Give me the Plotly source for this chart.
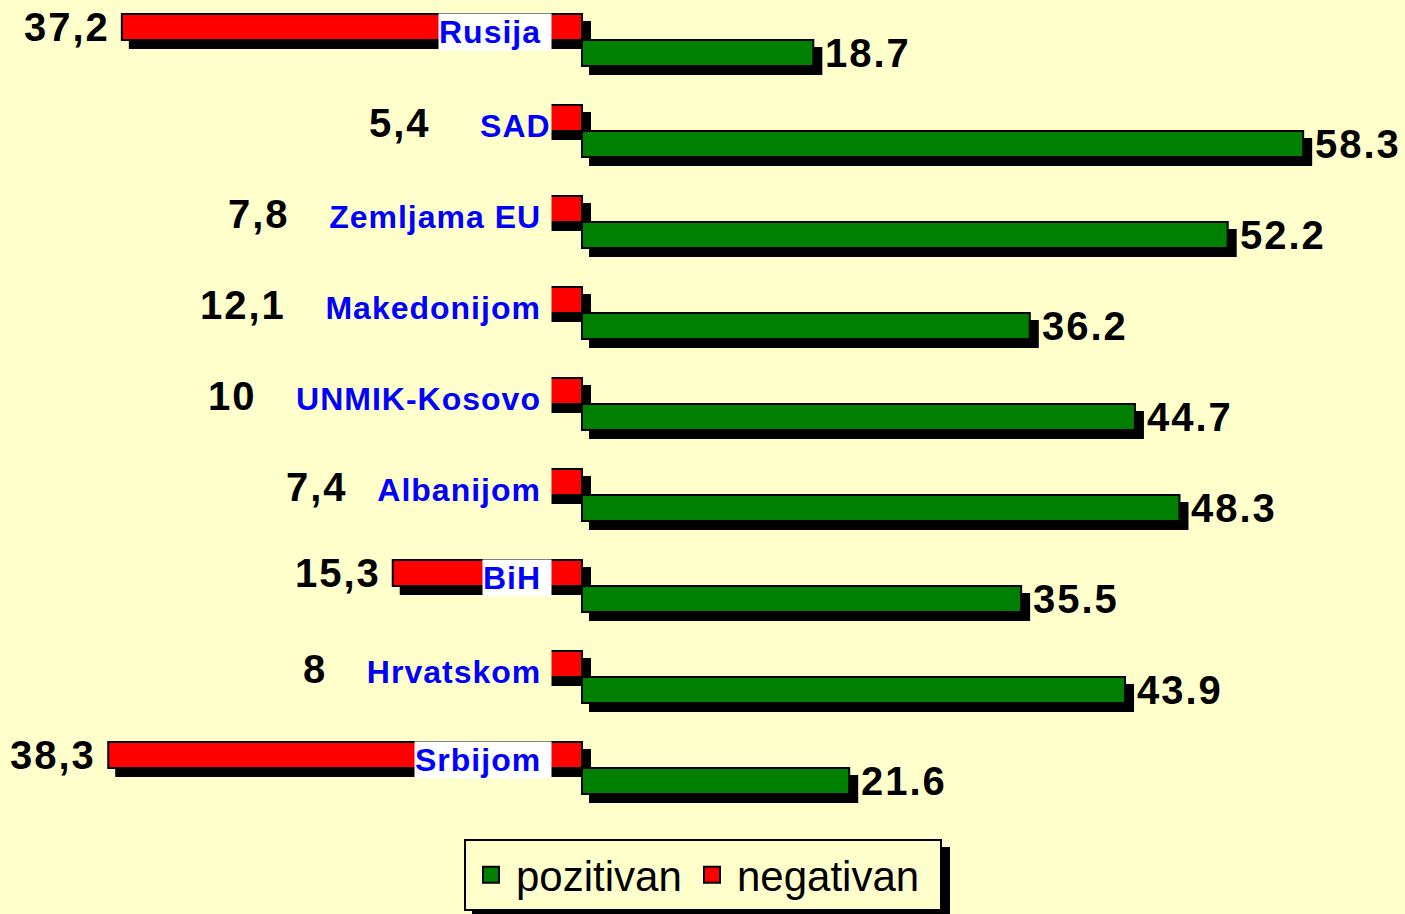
import plotly.graph_objects as go

# ---------------- data ----------------
countries = ["Rusija", "SAD", "Zemljama EU", "Makedonijom", "UNMIK-Kosovo",
             "Albanijom", "BiH", "Hrvatskom", "Srbijom"]
negativan = [37.2, 5.4, 7.8, 12.1, 10, 7.4, 15.3, 8, 38.3]
pozitivan = [18.7, 58.3, 52.2, 36.2, 44.7, 48.3, 35.5, 43.9, 21.6]

neg_labels = [f"{v:g}".replace(".", ",") for v in negativan]
pos_labels = [f"{v:.1f}" for v in pozitivan]

# ---------------- style ----------------
W, H = 1405, 914
BG = "#FFFFCC"
RED = "#FF0000"
GREEN = "#008000"
FONT = "Liberation Sans, Arial, sans-serif"
PX = 12.37          # pixels per unit
ZERO = 582          # pixel of x = 0
ROW = 91            # pixels per category row
TOP = 40            # pixel of the first row centre
SH = 8              # shadow offset (px)
label_on_bar = [True, False, False, False, False, False, True, False, True]
gap_spaces = [0, 5, 4, 4, 4, 3, 0, 4, 0]
trail_space = [1, 0, 1, 1, 1, 1, 1, 1, 1]

xmin = -ZERO / PX
xmax = (W - ZERO) / PX
ytop = -TOP / ROW
ybot = ytop + H / ROW

fig = go.Figure()

# shadows (main axes, drawn below)
neg_x = [-v for v in negativan]
fig.add_trace(go.Bar(y=countries, x=neg_x, orientation="h", marker=dict(color="black", line=dict(color="black", width=2)),
                     showlegend=False, hoverinfo="skip", xaxis="x", yaxis="y"))
fig.add_trace(go.Bar(y=countries, x=pozitivan, orientation="h", marker=dict(color="black", line=dict(color="black", width=2)),
                     showlegend=False, hoverinfo="skip", xaxis="x", yaxis="y"))
# real bars (overlay axes, drawn on top)
fig.add_trace(go.Bar(y=countries, x=neg_x, orientation="h", marker=dict(color=RED, line=dict(color="black", width=2)),
                     showlegend=False, hoverinfo="skip", xaxis="x2", yaxis="y2"))
fig.add_trace(go.Bar(y=countries, x=pozitivan, orientation="h", marker=dict(color=GREEN, line=dict(color="black", width=2)),
                     showlegend=False, hoverinfo="skip", xaxis="x2", yaxis="y2"))

# legend entries
for name, col, lw in [("pozitivan", GREEN, 166), ("negativan", RED, 198)]:
    fig.add_trace(go.Scatter(x=[None], y=[None], mode="markers", name=name, legendwidth=lw,
                             marker=dict(symbol="square", size=16, color=col, line=dict(color="black", width=2)),
                             xaxis="x2", yaxis="y2"))

VAL = "font-size:40px;letter-spacing:2px;color:black"
LAB = "letter-spacing:1px"
annotations = []
for i, c in enumerate(countries):
    annotations.append(dict(x=pozitivan[i], y=c, xref="x2", yref="y2", xanchor="left", yanchor="middle",
                            xshift=10, yshift=-13, showarrow=False,
                            text=f"<b><span style='{VAL}'>{pos_labels[i]}</span></b>",
                            font=dict(family=FONT, size=40, color="black")))
    trail = "&nbsp;" * trail_space[i]
    if label_on_bar[i]:
        annotations.append(dict(x=-negativan[i], y=c, xref="x2", yref="y2", xanchor="right", yanchor="middle",
                                xshift=-10, yshift=13, showarrow=False,
                                text=f"<b><span style='{VAL}'>{neg_labels[i]}</span></b>",
                                font=dict(family=FONT, size=40, color="black")))
        annotations.append(dict(x=0, y=c, xref="x2", yref="y2", xanchor="right", yanchor="middle",
                                xshift=-30, yshift=8, showarrow=False, bgcolor="white", borderpad=0,
                                text=f"<b><span style='{LAB}'>{c}{trail}</span></b>",
                                font=dict(family=FONT, size=32, color="#0000FF")))
    else:
        sp = "&nbsp;" * gap_spaces[i]
        annotations.append(dict(x=0, y=c, xref="x2", yref="y2", xanchor="right", yanchor="middle",
                                xshift=-30, yshift=8, showarrow=False, bgcolor=BG, borderpad=0,
                                text=(f"<b><span style='{VAL}'>{neg_labels[i]}</span>"
                                      f"<span style='{LAB}'>{sp}{c}{trail}</span></b>"),
                                font=dict(family=FONT, size=32, color="#0000FF")))

axis_common = dict(visible=False, showgrid=False, zeroline=False, fixedrange=True)
fig.update_layout(
    width=W, height=H,
    margin=dict(l=0, r=0, t=0, b=0),
    paper_bgcolor=BG, plot_bgcolor=BG,
    barmode="group", bargap=1 - 52 / ROW, bargroupgap=0,
    xaxis=dict(range=[xmin - SH / PX, xmax - SH / PX], **axis_common),
    yaxis=dict(type="category", categoryarray=countries, range=[ybot - SH / ROW, ytop - SH / ROW], **axis_common),
    xaxis2=dict(range=[xmin, xmax], overlaying="x", **axis_common),
    yaxis2=dict(type="category", categoryarray=countries, range=[ybot, ytop], overlaying="y", **axis_common),
    legend=dict(orientation="h", x=464 / W, y=1 - 839 / H, xanchor="left", yanchor="top",
                bgcolor=BG, bordercolor="black", borderwidth=2, itemwidth=40,
                font=dict(family=FONT, size=42, color="black")),
    shapes=[dict(type="rect", xref="paper", yref="paper", x0=472 / W, x1=950 / W,
                 y0=1 - 917 / H, y1=1 - 847 / H, fillcolor="black", line=dict(width=0), layer="below")],
    annotations=annotations,
    hovermode=False,
    showlegend=True,
)

fig.write_html("out.html", config={"displayModeBar": False},
               post_script="document.body.style.margin='0px';")
